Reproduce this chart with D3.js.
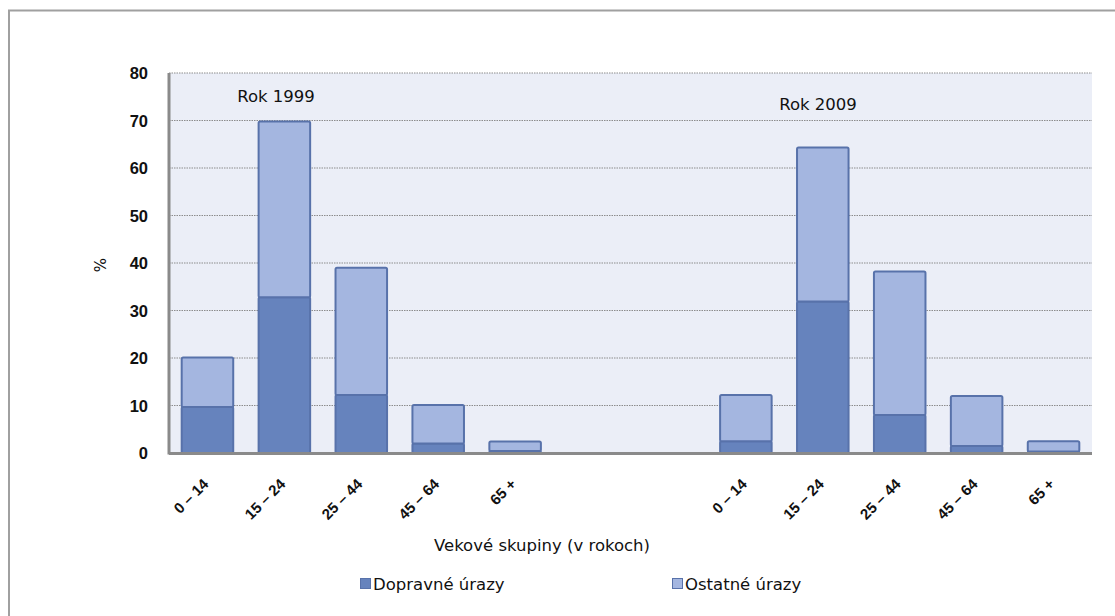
<!DOCTYPE html>
<html>
<head>
<meta charset="utf-8">
<script src="https://cdn.jsdelivr.net/npm/d3@7"></script>
<style>
  html, body { margin: 0; padding: 0; background: #fff; }
  svg { display: block; }
  text { font-family: "DejaVu Sans", Verdana, sans-serif; fill: #111; }
  .tick text { font-family: "Liberation Sans", Arial, sans-serif; font-weight: bold; }
</style>
</head>
<body>
<svg id="chart" width="1115" height="616"></svg>
<script>
// Age groups, repeated for both years, with an empty gap between the years
const ageGroups = ["0 – 14", "15 – 24", "25 – 44", "45 – 64", "65 +"];
const years = ["Rok 1999", "Rok 2009"];

// Share of injuries (%) by age group
const traffic1999 = [9.7, 32.8, 12.2, 2.0, 0.4];
const other1999   = [10.4, 37.0, 26.8, 8.1, 2.0];
const traffic2009 = [2.5, 31.9, 8.0, 1.5, 0.3];
const other2009   = [9.7, 32.4, 30.2, 10.5, 2.2];

const seriesNames = ["Dopravné úrazy", "Ostatné úrazy"];
const yTicks = [0, 10, 20, 30, 40, 50, 60, 70, 80];

const colTraffic = "#6683bd";
const colOther = "#a4b6e0";
const colStroke = "#5872aa";

// Slots: 5 groups for 1999, 2 empty slots, 5 groups for 2009
const slots = [
  ...ageGroups.map(g => "1999|" + g),
  "gap1", "gap2",
  ...ageGroups.map(g => "2009|" + g)
];

const rows = [
  ...ageGroups.map((g, i) => ({ key: "1999|" + g, label: g, traffic: traffic1999[i], other: other1999[i] })),
  ...ageGroups.map((g, i) => ({ key: "2009|" + g, label: g, traffic: traffic2009[i], other: other2009[i] }))
];

const svg = d3.select("#chart");
const plotL = 169, plotR = 1092, plotT = 73, plotB = 453;

// Outer frame
svg.append("line").attr("x1", 8).attr("x2", 1115).attr("y1", 10.5).attr("y2", 10.5)
  .attr("stroke", "#a0a0a0").attr("stroke-width", 2);
svg.append("line").attr("x1", 9).attr("x2", 9).attr("y1", 10).attr("y2", 616)
  .attr("stroke", "#a0a0a0").attr("stroke-width", 2);

const x = d3.scaleBand().domain(slots).range([plotL, plotR]).paddingInner(0.33).paddingOuter(0.165);
const y = d3.scaleLinear().domain([0, 80]).range([plotB, plotT]);

// Plot background
svg.append("rect").attr("x", plotL).attr("y", plotT).attr("width", plotR - plotL).attr("height", plotB - plotT)
  .attr("fill", "#ebeef7");

// Dotted grid lines
svg.append("g").selectAll("line").data(yTicks.filter(d => d > 0)).join("line")
  .attr("x1", plotL).attr("x2", plotR)
  .attr("y1", d => y(d)).attr("y2", d => y(d))
  .attr("stroke", "#8c8c8c").attr("stroke-width", 1.2).attr("stroke-dasharray", "1.5,1");

// Stacked bars
const stack = d3.stack().keys(["traffic", "other"]);
const stacked = stack(rows);
const colors = { traffic: colTraffic, other: colOther };

svg.append("g").selectAll("g").data(stacked).join("g")
  .attr("fill", d => colors[d.key])
  .selectAll("rect").data(d => d).join("rect")
  .attr("x", d => x(d.data.key))
  .attr("width", x.bandwidth())
  .attr("y", d => y(d[1]))
  .attr("height", d => y(d[0]) - y(d[1]))
  .attr("stroke", colStroke).attr("stroke-width", 2)
  .attr("rx", 1.5);

// Axes
const yAxis = d3.axisLeft(y).tickValues(yTicks).tickSize(0).tickPadding(21);
const gy = svg.append("g").attr("transform", `translate(${plotL},0)`).call(yAxis);
gy.select(".domain").remove();
gy.selectAll("text").attr("font-size", 16.5).attr("dy", "0.35em");

svg.append("line").attr("x1", plotL).attr("x2", plotL).attr("y1", plotT).attr("y2", plotB + 1.5)
  .attr("stroke", "#8a8a8a").attr("stroke-width", 3);
svg.append("line").attr("x1", plotL).attr("x2", plotR).attr("y1", plotB + 0.5).attr("y2", plotB + 0.5)
  .attr("stroke", "#8a8a8a").attr("stroke-width", 3);

const xAxis = d3.axisBottom(x).tickSize(0).tickFormat(k => k.startsWith("gap") ? "" : k.split("|")[1]);
const gx = svg.append("g").attr("transform", `translate(0,${plotB})`).call(xAxis);
gx.select(".domain").remove();
gx.selectAll("text")
  .attr("font-size", 15)
  .attr("text-anchor", "end")
  .attr("dy", 0).attr("y", 0)
  .attr("transform", "translate(2,32) rotate(-45)");

// Year captions
svg.append("text").attr("x", 276).attr("y", 102).attr("text-anchor", "middle")
  .attr("font-size", 16.5).text(years[0]);
svg.append("text").attr("x", 818).attr("y", 110).attr("text-anchor", "middle")
  .attr("font-size", 16.5).text(years[1]);

// Axis titles
svg.append("text").attr("transform", "translate(106,265) rotate(-90)").attr("text-anchor", "middle")
  .attr("font-size", 15).text("%");
svg.append("text").attr("x", 542).attr("y", 551).attr("text-anchor", "middle")
  .attr("font-size", 16.5).text("Vekové skupiny (v rokoch)");

// Legend
const legendX = [360, 672];
const legend = svg.append("g").selectAll("g").data(seriesNames).join("g")
  .attr("transform", (d, i) => `translate(${legendX[i]},590)`);
legend.append("rect").attr("x", 0.5).attr("y", -11.5).attr("width", 10).attr("height", 10)
  .attr("fill", (d, i) => i === 0 ? colTraffic : colOther).attr("stroke", colStroke).attr("stroke-width", 1);
legend.append("text").attr("x", 13).attr("y", 0).attr("font-size", 16.5).text(d => d);
</script>
</body>
</html>
